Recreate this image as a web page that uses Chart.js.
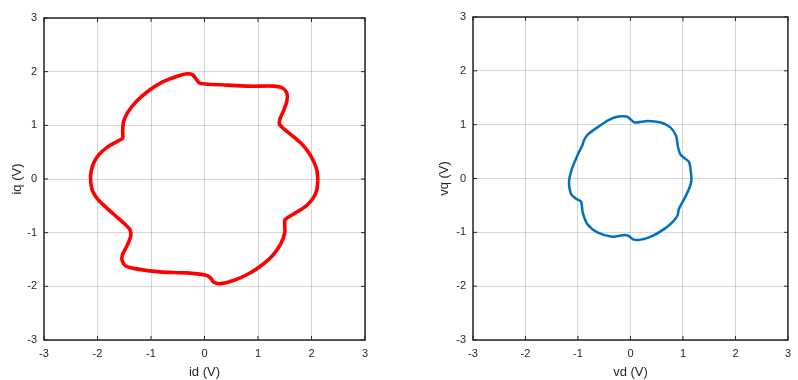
<!DOCTYPE html>
<html>
<head>
<meta charset="utf-8">
<script src="https://cdn.jsdelivr.net/npm/chart.js@4"></script>
<style>
  html, body { margin: 0; padding: 0; background: #fff; }
  #wrap { position: relative; width: 798px; height: 380px; }
  .box { position: absolute; top: 0; height: 380px; }
  #left { left: 0; width: 400px; }
  #right { left: 420px; width: 378px; }
</style>
</head>
<body>
<div id="wrap">
  <div class="box" id="left"><canvas id="currentChart"></canvas></div>
  <div class="box" id="right"><canvas id="voltageChart"></canvas></div>
</div>
<script>
// ticks shared by both plots
const tickValues = [-3, -2, -1, 0, 1, 2, 3];

// left plot: current loop
const idVals = [2.12, 2.10, 2.03, 1.93, 1.80, 1.65, 1.50, 1.40, 1.41, 1.48, 1.54, 1.54, 1.45, 1.29, 0.85, 0.42,
  -0.08, -0.14, -0.22, -0.33, -0.55, -0.80, -1.05, -1.27, -1.43, -1.51, -1.53, -1.53, -1.65, -1.82, -1.97, -2.08,
  -2.13, -2.10, -2.00, -1.85, -1.67, -1.50, -1.39, -1.38, -1.45, -1.53, -1.54, -1.47, -1.30, -0.83, -0.33, 0.01,
  0.11, 0.17, 0.29, 0.54, 0.80, 1.05, 1.27, 1.42, 1.50, 1.50, 1.50, 1.55, 1.72, 1.90, 2.03, 2.10];
const iqVals = [-0.02, 0.17, 0.35, 0.52, 0.67, 0.80, 0.92, 1.02, 1.12, 1.28, 1.45, 1.60, 1.70, 1.73, 1.73, 1.75,
  1.78, 1.84, 1.94, 1.96, 1.90, 1.80, 1.64, 1.45, 1.25, 1.08, 0.90, 0.76, 0.69, 0.59, 0.46, 0.28,
  0.05, -0.20, -0.37, -0.52, -0.68, -0.83, -0.95, -1.07, -1.25, -1.40, -1.52, -1.62, -1.67, -1.73, -1.75, -1.79,
  -1.84, -1.92, -1.95, -1.89, -1.78, -1.62, -1.43, -1.22, -1.01, -0.85, -0.77, -0.72, -0.62, -0.50, -0.36, -0.20];

// right plot: voltage loop
const vdVals = [1.16, 1.12, 1.04, 0.95, 0.90, 0.87, 0.76, 0.58, 0.33, 0.08, 0.00, -0.07, -0.23, -0.41, -0.63, -0.82,
  -0.89, -0.91, -1.00, -1.10, -1.16, -1.17, -1.13, -1.03, -0.94, -0.91, -0.82, -0.63, -0.35, -0.11, -0.03, 0.05,
  0.17, 0.39, 0.64, 0.82, 0.90, 0.92, 1.04, 1.12, 1.16];
const vqVals = [0.05, 0.30, 0.37, 0.45, 0.61, 0.79, 0.95, 1.04, 1.07, 1.04, 1.10, 1.15, 1.15, 1.09, 0.95, 0.81,
  0.70, 0.63, 0.45, 0.22, 0.02, -0.11, -0.29, -0.38, -0.43, -0.63, -0.85, -1.00, -1.08, -1.05, -1.07, -1.13,
  -1.14, -1.08, -0.94, -0.79, -0.68, -0.57, -0.35, -0.18, -0.05];

function loop(xs, ys) {
  const pts = xs.map((x, i) => ({ x: x, y: ys[i] }));
  pts.push(pts[0]);
  return pts;
}

// full box + inward ticks, like the original figure
const boxPlugin = {
  id: "box",
  afterDraw(chart) {
    const { ctx, chartArea: a, scales } = chart;
    ctx.save();
    ctx.strokeStyle = "#262626";
    ctx.lineWidth = 1;
    tickValues.forEach(v => {
      const px = scales.x.getPixelForValue(v);
      const py = scales.y.getPixelForValue(v);
      ctx.beginPath();
      ctx.moveTo(px, a.bottom); ctx.lineTo(px, a.bottom - 4);
      ctx.moveTo(px, a.top); ctx.lineTo(px, a.top + 4);
      ctx.moveTo(a.left, py); ctx.lineTo(a.left + 4, py);
      ctx.moveTo(a.right, py); ctx.lineTo(a.right - 4, py);
      ctx.stroke();
    });
    ctx.lineWidth = 1.5;
    ctx.strokeRect(a.left, a.top, a.right - a.left, a.bottom - a.top);
    ctx.restore();
  }
};

const font = { family: "'Liberation Sans', Arial, sans-serif", size: 11 };

function makeChart(id, pts, color, width, stripe, xTitle, yTitle, yAxisW, yTitlePad, pad) {
  const axis = (title, isY, fitSize) => ({
    type: "linear",
    min: -3, max: 3,
    afterBuildTicks: s => { s.ticks = tickValues.map(v => ({ value: v })); },
    afterFit: s => { if (isY) s.width = fitSize; else s.height = fitSize; },
    grid: { color: "rgba(0,0,0,0.16)", lineWidth: 1, drawTicks: false },
    border: { display: false },
    ticks: { color: "#262626", font: font, padding: 7, maxRotation: 0 },
    title: { display: true, text: title, color: "#262626", font: { family: font.family, size: 13 },
      padding: isY ? { top: yTitlePad, bottom: 0 } : { top: 3, bottom: 0 } }
  });
  const datasets = [{
    data: pts, showLine: true, borderColor: color, borderWidth: width,
    pointRadius: 0, tension: 0.25, fill: false
  }];
  if (stripe) {
    // thin light strand on top, gives the multi-turn look of the measured loop
    datasets.push({
      data: pts, showLine: true, borderColor: "rgba(255,255,255,0.55)", borderWidth: 0.7,
      pointRadius: 0, tension: 0.25, fill: false
    });
  }
  return new Chart(document.getElementById(id), {
    type: "scatter",
    data: { datasets: datasets },
    options: {
      responsive: true,
      maintainAspectRatio: false,
      animation: false,
      layout: { padding: pad },
      plugins: { legend: { display: false }, tooltip: { enabled: false } },
      scales: {
        x: axis(xTitle, false, 40 - pad.bottom),
        y: axis(yTitle, true, yAxisW)
      }
    },
    plugins: [boxPlugin]
  });
}

makeChart("currentChart", loop(idVals, iqVals), "#ff0000", 3.6, true, "id (V)", "iq (V)", 44, 10,
  { top: 18, right: 35, bottom: 0, left: 0 });
makeChart("voltageChart", loop(vdVals, vqVals), "#0072bd", 2.5, false, "vd (V)", "vq (V)", 53, 17,
  { top: 17, right: 2, bottom: 0, left: 0 });
</script>
</body>
</html>
